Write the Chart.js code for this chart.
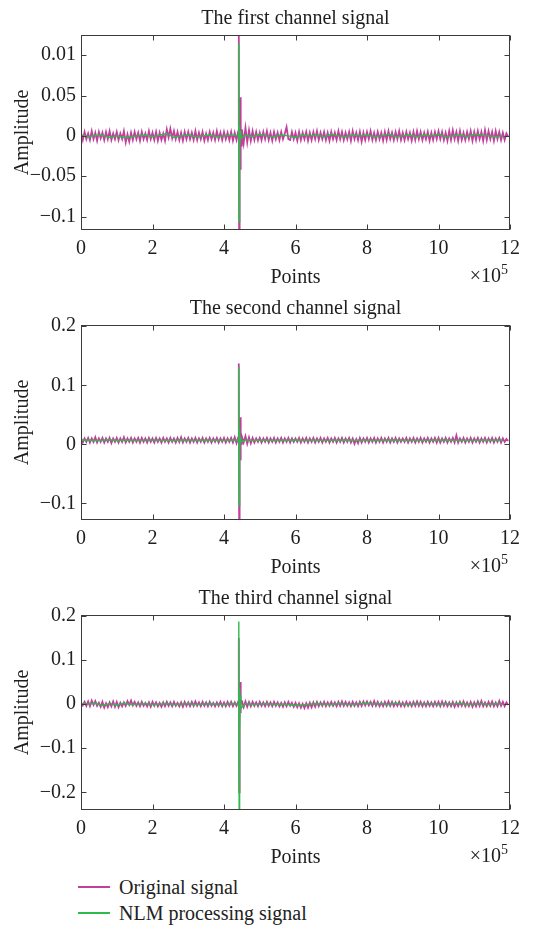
<!DOCTYPE html>
<html><head><meta charset="utf-8">
<script src="https://cdn.jsdelivr.net/npm/chart.js@4/dist/chart.umd.min.js"></script>
<style>
html,body{margin:0;padding:0;background:#fff;}
#wrap{position:relative;width:544px;height:927px;overflow:hidden;background:#fff;}
.cv{position:absolute;left:0;width:544px;height:290px;}
.leg{position:absolute;left:78px;height:26px;font-family:'Liberation Serif',serif;font-size:20px;color:#222;display:flex;align-items:center;white-space:nowrap;}
.leg .ln{display:inline-block;width:32px;height:2px;margin-right:9px;}
</style></head><body>
<div id="wrap">
<div class="cv" style="top:0"><canvas id="c1" width="544" height="290"></canvas></div>
<div class="cv" style="top:290px"><canvas id="c2" width="544" height="290"></canvas></div>
<div class="cv" style="top:580px"><canvas id="c3" width="544" height="290"></canvas></div>
<div class="leg" style="top:874px"><span class="ln" style="background:#c2409c"></span>Original signal</div>
<div class="leg" style="top:900px"><span class="ln" style="background:#2dbb4c"></span>NLM processing signal</div>
</div>
<script>
// ---------- DATA ----------
const seriesNames = ['Original signal', 'NLM processing signal'];
const chartTitles = ['The first channel signal', 'The second channel signal', 'The third channel signal'];
const xTickValues = [0, 200000, 400000, 600000, 800000, 1000000, 1200000];
const xTickLabels = ['0', '2', '4', '6', '8', '10', '12'];
const origStep = 5000;    // sample spacing of the original-signal arrays (points)
const nlmStep = 20000;    // sample spacing of the NLM arrays (points)

// channel 1
const ch1Orig = [
 0.004,-0.005,0.005,-0.004,0.003,-0.005,0.006,-0.004,0.004,-0.006,0.005,-0.003,0.004,-0.005,0.005,-0.004,0.006,-0.005,0.003,-0.004,
 0.005,-0.005,0.003,-0.004,0.006,-0.008,0.002,-0.007,0.004,-0.005,0.005,-0.004,0.004,-0.006,0.005,-0.004,0.003,-0.005,0.006,-0.004,
 0.004,-0.005,0.005,-0.006,0.004,-0.005,0.003,-0.006,0.008,-0.002,0.009,-0.003,0.006,-0.004,0.005,-0.005,0.004,-0.006,0.005,-0.004,
 0.005,-0.004,0.004,-0.005,0.006,-0.005,0.004,-0.004,0.005,-0.006,0.003,-0.005,0.005,-0.004,0.004,-0.005,0.006,-0.004,0.004,-0.005,
 0.005,-0.004,0.004,-0.005,0.005,-0.006,0.004,-0.005,0.006,-0.007,0.008,-0.009,0.010,-0.008,0.007,-0.006,0.006,-0.005,0.005,-0.005,
 0.004,-0.005,0.005,-0.004,0.006,-0.005,0.004,-0.006,0.005,-0.004,0.004,-0.005,0.005,-0.004,0.003,0.011,-0.004,-0.005,0.005,-0.004,
 0.004,-0.006,0.005,-0.005,0.004,-0.004,0.005,-0.006,0.004,-0.005,0.005,-0.004,0.006,-0.005,0.004,-0.004,0.005,-0.005,0.004,-0.006,
 0.005,-0.004,0.004,-0.005,0.006,-0.004,0.005,-0.005,0.004,-0.004,0.005,-0.006,0.006,-0.004,0.004,-0.005,0.005,-0.007,0.004,-0.005,
 0.005,-0.004,0.006,-0.005,0.004,-0.005,0.005,-0.004,0.004,-0.006,0.005,-0.005,0.006,-0.004,0.004,-0.005,0.005,-0.004,0.006,-0.005,
 0.004,-0.005,0.005,-0.004,0.004,-0.006,0.005,-0.005,0.006,-0.004,0.005,-0.005,0.004,-0.004,0.005,-0.006,0.004,-0.005,0.005,-0.004,
 0.006,-0.004,0.005,-0.005,0.004,-0.006,0.006,-0.005,0.007,-0.004,0.005,-0.006,0.006,-0.005,0.004,-0.005,0.005,-0.004,0.006,-0.006,
 0.005,-0.005,0.006,-0.004,0.005,-0.006,0.007,-0.005,0.006,-0.004,0.005,-0.006,0.006,-0.004,0.005,-0.005,0.004,-0.005,0.003,-0.001];
const ch1OrigSpikeX = [441000,441800,442400,443200,444200,445200,446200,447200,448200];
const ch1OrigSpikeY = [0.020,0.140,-0.140,0.018,-0.028,0.048,-0.042,0.014,-0.012];
const ch1Nlm = [
 0.001,-0.001,0.0005,0.001,-0.002,0.000,-0.002,-0.001,0.000,0.001,-0.001,0.001,0.003,-0.002,0.000,0.001,-0.001,0.000,0.001,-0.001,
 0.000,0.001,0.000,0.001,-0.001,0.002,0.000,-0.001,0.001,0.000,-0.002,0.001,0.000,0.001,-0.001,0.002,0.000,-0.001,0.001,0.000,
 0.001,-0.001,0.000,0.002,-0.001,0.000,0.001,-0.001,0.001,0.000,0.002,-0.001,0.000,0.001,-0.001,0.002,0.001,0.000,-0.001,0.000];
const ch1NlmSpikeX = [441000,441800,442400,443200,444200,445500,447000];
const ch1NlmSpikeY = [0.018,0.115,-0.106,0.012,-0.014,0.006,-0.003];

// channel 2
const ch2Orig = [
 0.011,0.003,0.010,0.004,0.011,0.003,0.010,0.004,0.012,0.003,0.010,0.004,0.011,0.003,0.010,0.004,0.011,0.002,0.010,0.004,
 0.011,0.003,0.010,0.004,0.012,0.003,0.010,0.004,0.011,0.003,0.010,0.004,0.011,0.003,0.011,0.004,0.010,0.003,0.011,0.004,
 0.010,0.003,0.011,0.004,0.010,0.003,0.011,0.004,0.010,0.003,0.011,0.004,0.010,0.003,0.011,0.004,0.012,0.003,0.010,0.004,
 0.011,0.003,0.010,0.004,0.011,0.003,0.010,0.004,0.011,0.003,0.010,0.004,0.011,0.003,0.010,0.004,0.011,0.003,0.010,0.004,
 0.011,0.003,0.010,0.004,0.011,0.003,0.012,0.002,0.012,0.002,0.013,0.003,0.014,0.001,0.012,0.002,0.011,0.003,0.010,0.004,
 0.011,0.003,0.010,0.004,0.011,0.003,0.010,0.004,0.011,0.003,0.010,0.004,0.011,0.003,0.010,0.004,0.011,0.003,0.010,0.004,
 0.010,0.004,0.011,0.003,0.010,0.004,0.011,0.003,0.010,0.004,0.011,0.003,0.010,0.004,0.011,0.003,0.010,0.004,0.011,0.003,
 0.010,0.004,0.011,0.003,0.010,0.004,0.011,0.003,0.010,0.004,0.011,0.003,0.010,0.001,0.009,0.002,0.011,0.003,0.010,0.004,
 0.011,0.003,0.010,0.004,0.011,0.003,0.010,0.004,0.011,0.003,0.010,0.004,0.011,0.003,0.010,0.004,0.011,0.003,0.010,0.004,
 0.010,0.004,0.011,0.003,0.010,0.004,0.011,0.003,0.010,0.004,0.011,0.003,0.010,0.004,0.011,0.003,0.010,0.004,0.011,0.003,
 0.011,0.003,0.010,0.004,0.011,0.003,0.010,0.004,0.011,0.003,0.015,0.003,0.010,0.004,0.011,0.003,0.010,0.004,0.011,0.003,
 0.010,0.004,0.011,0.003,0.010,0.004,0.011,0.003,0.010,0.004,0.011,0.003,0.010,0.004,0.011,0.003,0.010,0.004,0.009,0.006];
const ch2OrigSpikeX = [441000,441800,442400,443200,444200,445200,446200,447200,448200];
const ch2OrigSpikeY = [0.025,0.137,-0.140,0.020,-0.025,0.046,-0.027,0.018,0.001];
const ch2Nlm = [
 0.007,0.0075,0.0065,0.007,0.0078,0.0066,0.007,0.0072,0.0064,0.0071,0.0076,0.0068,0.007,0.0065,0.0073,0.007,0.0068,0.0075,0.0069,0.0071,
 0.0067,0.0072,0.007,0.0074,0.0068,0.007,0.0072,0.0066,0.0071,0.0069,0.0073,0.0068,0.007,0.0072,0.0067,0.0071,0.0069,0.0074,0.0068,0.0070,
 0.0072,0.0066,0.0071,0.0069,0.0073,0.0067,0.007,0.0072,0.0068,0.0071,0.0069,0.0073,0.0067,0.0070,0.0072,0.0068,0.0071,0.0069,0.0072,0.0070];
const ch2NlmSpikeX = [441000,441800,442400,443200,444200,445500,447000];
const ch2NlmSpikeY = [0.020,0.131,-0.103,0.025,-0.012,0.012,0.004];

// channel 3
const ch3Orig = [
 0.004,-0.003,0.005,-0.004,0.006,-0.005,0.008,-0.002,0.007,-0.004,0.003,-0.006,0.005,-0.008,0.002,-0.007,0.004,-0.005,0.006,-0.006,
 0.005,-0.007,0.003,-0.005,0.004,-0.004,0.007,-0.002,0.008,-0.003,0.005,-0.004,0.004,-0.005,0.005,-0.004,0.003,-0.005,0.004,-0.006,
 0.005,-0.004,0.004,-0.005,0.003,-0.006,0.004,-0.005,0.005,-0.004,0.004,-0.005,0.005,-0.004,0.003,-0.005,0.004,-0.006,0.005,-0.004,
 0.004,-0.005,0.005,-0.004,0.006,-0.004,0.004,-0.005,0.005,-0.004,0.004,-0.005,0.005,-0.004,0.003,-0.005,0.004,-0.004,0.005,-0.005,
 0.004,-0.005,0.005,-0.004,0.005,-0.005,0.004,-0.004,0.006,-0.006,0.007,-0.007,0.006,-0.006,0.005,-0.005,0.005,-0.004,0.004,-0.005,
 0.005,-0.004,0.004,-0.005,0.005,-0.004,0.004,-0.005,0.005,-0.004,0.004,-0.005,0.003,-0.006,0.004,-0.005,0.005,-0.004,0.003,-0.006,
 0.003,-0.007,0.002,-0.008,0.001,-0.009,0.002,-0.008,0.003,-0.007,0.004,-0.006,0.005,-0.005,0.004,-0.004,0.005,-0.005,0.004,-0.004,
 0.005,-0.004,0.004,-0.005,0.005,-0.004,0.006,-0.004,0.005,-0.004,0.004,-0.005,0.005,-0.004,0.004,-0.005,0.005,-0.004,0.006,-0.003,
 0.006,-0.003,0.005,-0.004,0.007,-0.004,0.005,-0.005,0.004,-0.005,0.005,-0.004,0.006,-0.004,0.005,-0.005,0.004,-0.004,0.005,-0.005,
 0.004,-0.005,0.005,-0.004,0.004,-0.005,0.005,-0.004,0.006,-0.004,0.005,-0.005,0.004,-0.005,0.005,-0.004,0.004,-0.005,0.005,-0.004,
 0.005,-0.005,0.006,-0.004,0.005,-0.005,0.004,-0.005,0.005,-0.006,0.004,-0.005,0.005,-0.004,0.006,-0.005,0.004,-0.005,0.005,-0.006,
 0.004,-0.005,0.006,-0.004,0.007,-0.005,0.004,-0.005,0.005,-0.004,0.006,-0.005,0.004,-0.005,0.007,-0.004,0.005,-0.005,0.004,-0.002];
const ch3OrigSpikeX = [441000,441800,442400,443200,444200,445200,446200,447200];
const ch3OrigSpikeY = [0.010,0.150,-0.200,0.030,-0.035,0.050,-0.020,0.008];
const ch3Nlm = [
 0.001,0.000,0.002,-0.003,0.001,-0.002,0.002,-0.001,0.000,0.001,-0.001,0.000,0.001,-0.001,0.000,0.001,-0.001,0.000,0.001,0.000,
 -0.001,0.001,0.000,0.001,-0.001,0.000,0.001,-0.001,0.000,-0.001,-0.003,-0.002,0.000,0.001,0.000,-0.001,0.001,0.000,-0.001,0.001,
 0.002,0.000,0.001,-0.001,0.002,0.000,-0.001,0.001,0.000,0.001,-0.001,0.001,0.000,0.002,-0.001,0.000,0.001,-0.001,0.001,0.000];
const ch3NlmSpikeX = [441000,441800,442400,443200,444200,445500,447000];
const ch3NlmSpikeY = [0.030,0.187,-0.260,0.035,-0.066,0.020,-0.010];

const ch1YTicks = [-0.1, -0.05, 0, 0.05, 0.1];
const ch1YLabels = ['\u22120.1', '\u22120.05', '0', '0.05', '0.01'];
const ch2YTicks = [-0.1, 0, 0.1, 0.2];
const ch2YLabels = ['\u22120.1', '0', '0.1', '0.2'];
const ch3YTicks = [-0.2, -0.1, 0, 0.1, 0.2];
const ch3YLabels = ['\u22120.2', '\u22120.1', '0', '0.1', '0.2'];
const yRanges = [[-0.1166, 0.125], [-0.128, 0.202], [-0.240, 0.202]];

// ---------- BUILD ----------
const PINK = '#c2409c', GREEN = '#2dbb4c', FRAME = '#3c3c3c', TXT = '#1e1e1e';
const FONT = "'Liberation Serif', 'Times New Roman', serif";

function build(vals, step, spx, spy) {
  const lo = spx[0], hi = spx[spx.length - 1];
  const pts = vals.map((v, i) => ({x: i * step, y: v})).filter(p => p.x < lo || p.x > hi);
  spx.forEach((x, i) => pts.push({x: x, y: spy[i]}));
  pts.sort((a, b) => a.x - b.x);
  return pts;
}

const framePlugin = {
  id: 'frame',
  afterDraw(chart) {
    const {ctx, chartArea: a, scales: {x, y}} = chart;
    ctx.save();
    ctx.strokeStyle = FRAME; ctx.lineWidth = 1;
    const L = Math.round(a.left) + 0.5, R = Math.round(a.right) - 0.5;
    const T = Math.round(a.top) + 0.5, B = Math.round(a.bottom) - 0.5;
    ctx.strokeRect(L, T, R - L, B - T);
    const tl = 5;
    ctx.beginPath();
    x.ticks.forEach(t => {
      const px = Math.round(x.getPixelForValue(t.value)) + 0.5;
      ctx.moveTo(px, B); ctx.lineTo(px, B - tl);
      ctx.moveTo(px, T); ctx.lineTo(px, T + tl);
    });
    y.ticks.forEach(t => {
      const py = Math.round(y.getPixelForValue(t.value)) + 0.5;
      ctx.moveTo(L, py); ctx.lineTo(L + tl, py);
      ctx.moveTo(R, py); ctx.lineTo(R - tl, py);
    });
    ctx.stroke();
    ctx.fillStyle = TXT;
    // chart title, centred over the plot area
    ctx.textAlign = 'center'; ctx.textBaseline = 'middle';
    ctx.font = '20px ' + FONT;
    ctx.fillText(chart.options.plugins.frame.title, (a.left + a.right) / 2, a.top - 16);
    // x10^5 multiplier
    ctx.textBaseline = 'alphabetic';
    ctx.textAlign = 'right';
    ctx.font = '14px ' + FONT;
    const rx = a.right - 2;
    ctx.fillText('5', rx, a.bottom + 44);
    const w5 = ctx.measureText('5').width;
    ctx.font = '20px ' + FONT;
    ctx.fillText('\u00d710', rx - w5, a.bottom + 52);
    ctx.restore();
  }
};

function makeChart(id, title, orig, nlm, yr, yTicks, yLabels) {
  new Chart(document.getElementById(id), {
    type: 'line',
    data: {
      datasets: [
        {label: seriesNames[0], data: orig, borderColor: PINK, borderWidth: 1.8, pointRadius: 0, tension: 0, order: 2},
        {label: seriesNames[1], data: nlm, borderColor: GREEN, borderWidth: 1.4, pointRadius: 0, tension: 0, order: 1}
      ]
    },
    options: {
      responsive: false, animation: false, events: [],
      layout: {padding: {left: 0, right: 34, top: 35, bottom: 0}},
      plugins: {
        legend: {display: false}, tooltip: {enabled: false}, title: {display: false},
        frame: {title: title}
      },
      scales: {
        x: {
          type: 'linear', min: 0, max: 1200000,
          afterBuildTicks: s => { s.ticks = xTickValues.map(v => ({value: v})); },
          afterFit: s => { s.height = 60; },
          grid: {display: false, drawTicks: false, tickLength: 0}, border: {display: false},
          ticks: {autoSkip: false, maxRotation: 0, padding: 7, color: TXT, font: {family: FONT, size: 20},
                  callback: (v, i) => xTickLabels[i]},
          title: {display: true, text: 'Points', color: TXT, font: {family: FONT, size: 20}, padding: {top: 0, bottom: 0}}
        },
        y: {
          type: 'linear', min: yr[0], max: yr[1],
          afterBuildTicks: s => { s.ticks = yTicks.map(v => ({value: v})); },
          afterFit: s => { s.width = 81; },
          grid: {display: false, drawTicks: false, tickLength: 0}, border: {display: false},
          ticks: {autoSkip: false, padding: 5, color: TXT, font: {family: FONT, size: 20},
                  callback: (v, i) => yLabels[i]},
          title: {display: true, text: 'Amplitude', color: TXT, font: {family: FONT, size: 20}, padding: {top: 11, bottom: 0}}
        }
      }
    },
    plugins: [framePlugin]
  });
}

makeChart('c1', chartTitles[0], build(ch1Orig, origStep, ch1OrigSpikeX, ch1OrigSpikeY), build(ch1Nlm, nlmStep, ch1NlmSpikeX, ch1NlmSpikeY), yRanges[0], ch1YTicks, ch1YLabels);
makeChart('c2', chartTitles[1], build(ch2Orig, origStep, ch2OrigSpikeX, ch2OrigSpikeY), build(ch2Nlm, nlmStep, ch2NlmSpikeX, ch2NlmSpikeY), yRanges[1], ch2YTicks, ch2YLabels);
makeChart('c3', chartTitles[2], build(ch3Orig, origStep, ch3OrigSpikeX, ch3OrigSpikeY), build(ch3Nlm, nlmStep, ch3NlmSpikeX, ch3NlmSpikeY), yRanges[2], ch3YTicks, ch3YLabels);
</script>
</body></html>
